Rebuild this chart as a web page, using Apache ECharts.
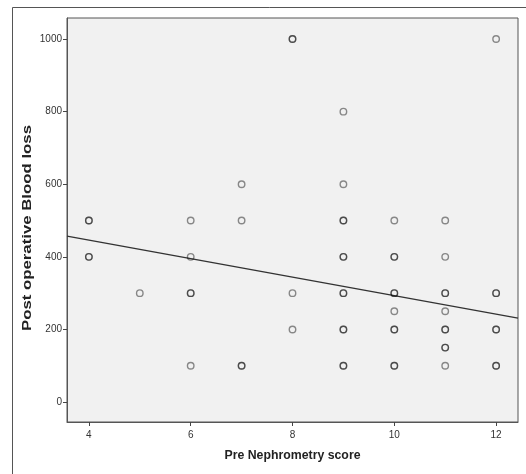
<!DOCTYPE html>
<html>
<head>
<meta charset="utf-8">
<script src="https://cdn.jsdelivr.net/npm/echarts@6/dist/echarts.min.js"></script>
<style>html,body{margin:0;padding:0;background:#fff;}#c{width:526px;height:474px;}</style>
</head>
<body>
<div id="c"></div>
<script>
// Pre Nephrometry score (x) and Post operative Blood loss (y)
var scoreX =    [4,   4,   5,   6,   6,   6,   6,   7,   7,   7,   8,    8,   8,   9,   9,   9,   9,   9,   9,   9,   10,  10,  10,  10,  10,  10,  11,  11,  11,  11,  11,  11,  11,  12,   12,  12,  12];
var bloodLoss = [500, 400, 300, 500, 400, 300, 100, 600, 500, 100, 1000, 300, 200, 800, 600, 500, 400, 300, 200, 100, 500, 400, 300, 250, 200, 100, 500, 400, 300, 250, 200, 150, 100, 1000, 300, 200, 100];
// number of overlapping cases (estimated from marker darkness)
var caseCount = [2,   2,   1,   1,   1,   2,   1,   1,   1,   2,   2,    1,   1,   1,   1,   2,   2,   2,   2,   2,   1,   2,   2,   1,   2,   2,   1,   1,   2,   1,   2,   2,   1,   1,    2,   2,   2];
// Linear fit line endpoints
var fitX = [3.57, 12.43];
var fitY = [457, 231];
var xTicks = [4, 6, 8, 10, 12];
var yTicks = [0, 200, 400, 600, 800, 1000];
var xTitle = 'Pre Nephrometry score';
var yTitle = 'Post operative Blood loss';

var pts = [];
for (var i = 0; i < scoreX.length; i++) {
  for (var k = 0; k < caseCount[i]; k++) pts.push([scoreX[i], bloodLoss[i]]);
}
var fit = fitX.map(function (v, i) { return [v, fitY[i]]; });

var chart = echarts.init(document.getElementById('c'), null, {renderer: 'canvas'});
var labelFont = {color: '#333', fontSize: 10, fontFamily: 'Liberation Sans'};
chart.setOption({
  animation: false,
  backgroundColor: '#fff',
  grid: {left: 67, top: 18, right: 8, bottom: 52, show: true, backgroundColor: '#f1f1f1', borderColor: '#555', borderWidth: 1},
  xAxis: {
    type: 'value', min: 3.57, max: 12.43,
    name: xTitle, nameLocation: 'middle', nameGap: 28,
    nameTextStyle: {fontSize: 12.3, fontWeight: 'bold', color: '#222', fontFamily: 'Liberation Sans'},
    axisLine: {show: true, onZero: false, lineStyle: {color: '#555', width: 1}},
    axisTick: {show: true, length: 4, inside: false, customValues: xTicks, lineStyle: {color: '#444'}},
    axisLabel: Object.assign({customValues: xTicks, margin: 8, formatter: function (v) { return String(v); }}, labelFont),
    splitLine: {show: false}
  },
  yAxis: {
    type: 'value', min: -55, max: 1058,
    axisLine: {show: true, onZero: false, lineStyle: {color: '#555', width: 1}},
    axisTick: {show: true, length: 4, inside: false, customValues: yTicks, lineStyle: {color: '#444'}},
    axisLabel: Object.assign({customValues: yTicks, margin: 5, formatter: function (v) { return String(v); }}, labelFont),
    splitLine: {show: false}
  },
  graphic: [
    {type: 'line', shape: {x1: 12.5, y1: 7.5, x2: 526, y2: 7.5}, style: {stroke: '#555', lineWidth: 1}},
    {type: 'line', shape: {x1: 12.5, y1: 7.5, x2: 12.5, y2: 474}, style: {stroke: '#555', lineWidth: 1}},
    {type: 'text', x: 27, y: 228, rotation: Math.PI / 2, scaleX: 1.29,
     style: {text: yTitle, font: 'bold 13px "Liberation Sans"', fill: '#222', align: 'center', verticalAlign: 'middle'}}
  ],
  series: [
    {
      type: 'line', data: fit, showSymbol: false, symbol: 'none',
      lineStyle: {color: '#333', width: 1.2}, z: 3
    },
    {
      type: 'scatter', data: pts, symbol: 'circle', symbolSize: 6.5,
      itemStyle: {color: 'rgba(0,0,0,0)', borderColor: 'rgba(0,0,0,0.55)', borderWidth: 1.4}, z: 4
    }
  ]
});
</script>
</body>
</html>
